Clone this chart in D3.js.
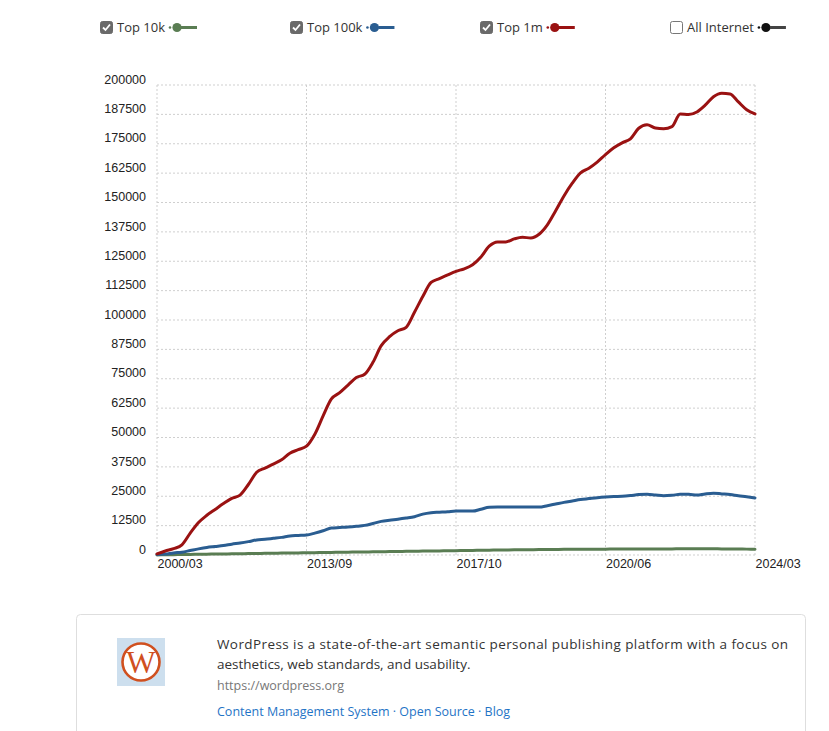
<!DOCTYPE html>
<html>
<head>
<meta charset="utf-8">
<script src="https://cdn.jsdelivr.net/npm/d3@7"></script>
<style>
  html, body { margin: 0; padding: 0; background: #fff; }
  svg { display: block; }
</style>
</head>
<body>
<svg id="chart" width="829" height="731"></svg>
<script>
// ---------------- DATA ----------------
const xTickLabels = ["2000/03", "2013/09", "2017/10", "2020/06", "2024/03"];
const xTickIndex = [0, 18, 36, 54, 72];
const yTicks = [0, 12500, 25000, 37500, 50000, 62500, 75000, 87500, 100000, 112500, 125000, 137500, 150000, 162500, 175000, 187500, 200000];

const top1m = [500, 1700, 2700, 4300, 9300, 13800, 16900, 19400, 21900, 24100,
  25500, 30000, 35200, 37000, 38700, 40500, 43300, 44800, 46300, 51400,
  59200, 66400, 69100, 72300, 75500, 76900, 82000, 89100, 92900, 95400,
  96900, 103300, 110000, 116000, 117600, 119200, 120700, 121800, 123500, 126800,
  131400, 133200, 133200, 134500, 135200, 134900, 136500, 140500, 146500, 152800,
  158200, 162600, 164600, 167200, 170400, 173300, 175400, 177100, 181600, 183100,
  181700, 181400, 182300, 187700, 187400, 188500, 191400, 195000, 196500, 196200,
  192800, 189500, 187700];

const top100k = [200, 400, 900, 1200, 1900, 2600, 3200, 3600, 4000, 4600,
  5100, 5700, 6400, 6700, 7100, 7500, 8100, 8300, 8500, 9300,
  10300, 11500, 11700, 11900, 12200, 12600, 13400, 14300, 14800, 15200,
  15700, 16300, 17400, 18000, 18200, 18400, 18700, 18700, 18700, 19500,
  20300, 20400, 20400, 20400, 20400, 20400, 20400, 21000, 21700, 22400,
  23000, 23600, 24000, 24400, 24700, 24900, 25000, 25300, 25700, 25800,
  25500, 25200, 25400, 25800, 25800, 25500, 26000, 26300, 26000, 25700,
  25200, 24800, 24300];

const top10k = [50, 100, 150, 200, 250, 300, 350, 400, 450, 500,
  550, 600, 650, 700, 750, 800, 850, 900, 950, 1000,
  1050, 1100, 1150, 1200, 1250, 1300, 1350, 1400, 1450, 1500,
  1550, 1600, 1650, 1700, 1750, 1800, 1850, 1900, 1950, 2000,
  2050, 2100, 2150, 2200, 2200, 2250, 2300, 2300, 2350, 2400,
  2400, 2450, 2450, 2500, 2500, 2550, 2550, 2600, 2600, 2600,
  2600, 2600, 2600, 2650, 2650, 2650, 2650, 2650, 2600, 2600,
  2550, 2500, 2450];

const legendLabels = ["Top 10k", "Top 100k", "Top 1m", "All Internet"];
const legendChecked = [true, true, true, false];

const cardDescription = ["WordPress is a state-of-the-art semantic personal publishing platform with a focus on",
  "aesthetics, web standards, and usability."];
const cardUrl = "https://wordpress.org";
const cardTags = ["Content Management System", "Open Source", "Blog"];

// ---------------- STYLE ----------------
const colors = { "Top 10k": "#5a7d53", "Top 100k": "#2a5d91", "Top 1m": "#9a1212", "All Internet": "#111111" };
const legendLineColors = { "Top 10k": "#5a7d53", "Top 100k": "#2a5d91", "Top 1m": "#9a1212", "All Internet": "#444444" };
const descLineWidths = [571, null];

const svg = d3.select("#chart");
const plotLeft = 157, plotRight = 755, plotTop = 85, plotBottom = 555;

const x = d3.scaleLinear().domain([0, top1m.length - 1]).range([plotLeft, plotRight]);
const y = d3.scaleLinear().domain([0, 200000]).range([plotBottom, plotTop]);

// grid
const grid = svg.append("g");
grid.selectAll("line.h").data(yTicks).join("line")
  .attr("x1", plotLeft).attr("x2", plotRight)
  .attr("y1", d => y(d)).attr("y2", d => y(d))
  .attr("stroke", "#cfcfcf").attr("stroke-width", 1).attr("stroke-dasharray", "2,2");
grid.selectAll("line.v").data(xTickIndex).join("line")
  .attr("x1", d => x(d)).attr("x2", d => x(d))
  .attr("y1", plotTop).attr("y2", plotBottom)
  .attr("stroke", "#cfcfcf").attr("stroke-width", 1).attr("stroke-dasharray", "2,2");

// y axis
const yAxis = d3.axisLeft(y).tickValues(yTicks).tickSize(0).tickPadding(11).tickFormat(d => String(d));
const gy = svg.append("g").attr("transform", `translate(${plotLeft},0)`).call(yAxis);
gy.select(".domain").remove();
gy.selectAll("text").attr("dy", "-0.15em")
  .attr("font-family", "'Liberation Sans', Arial, sans-serif").attr("font-size", 12.5).attr("fill", "#222");

// x axis
const xAxis = d3.axisBottom(x).tickValues(xTickIndex).tickSize(0).tickPadding(4)
  .tickFormat((d, i) => xTickLabels[i]);
const gx = svg.append("g").attr("transform", `translate(0,${plotBottom})`).call(xAxis);
gx.select(".domain").remove();
gx.selectAll("text").attr("text-anchor", "start")
  .attr("font-family", "'Liberation Sans', Arial, sans-serif").attr("font-size", 12.5).attr("fill", "#222");

// lines
const line = d3.line().x((d, i) => x(i)).y(d => y(d)).curve(d3.curveMonotoneX);
const seriesList = [["Top 10k", top10k], ["Top 100k", top100k], ["Top 1m", top1m]];
svg.append("g").selectAll("path").data(seriesList).join("path")
  .attr("d", d => line(d[1]))
  .attr("fill", "none")
  .attr("stroke", d => colors[d[0]])
  .attr("stroke-width", 3)
  .attr("stroke-linejoin", "round")
  .attr("stroke-linecap", "round");

// legend
const legendX = d3.scalePoint().domain(legendLabels).range([100, 670]);
const lg = svg.append("g").selectAll("g").data(legendLabels).join("g")
  .attr("transform", d => `translate(${legendX(d)},21)`);
lg.append("rect").attr("x", 0.5).attr("y", 0.5).attr("width", 12).attr("height", 12).attr("rx", 2)
  .attr("fill", (d, i) => legendChecked[i] ? "#6a6a6a" : "#fff")
  .attr("stroke", (d, i) => legendChecked[i] ? "#6a6a6a" : "#777");
lg.filter((d, i) => legendChecked[i]).append("path")
  .attr("d", "M3,6.5 L5.5,9 L10,3.5").attr("fill", "none").attr("stroke", "#fff").attr("stroke-width", 1.8);
lg.append("text").attr("x", 17).attr("y", 11)
  .attr("font-family", "'Open Sans', sans-serif").attr("font-size", 13).attr("fill", "#333")
  .text(d => d);
lg.each(function(d) {
  const g = d3.select(this);
  const w = g.select("text").node().getComputedTextLength();
  const mx = 17 + w + 5;
  g.append("circle").attr("cx", mx).attr("cy", 6.5).attr("r", 1.3).attr("fill", colors[d]);
  g.append("circle").attr("cx", mx + 7).attr("cy", 6.5).attr("r", 4.6).attr("fill", colors[d]);
  g.append("line").attr("x1", mx + 11).attr("x2", mx + 27).attr("y1", 6.5).attr("y2", 6.5)
    .attr("stroke", legendLineColors[d]).attr("stroke-width", 3);
});

// card
const card = svg.append("g");
card.append("rect").attr("x", 76.5).attr("y", 614.5).attr("width", 729).attr("height", 140).attr("rx", 4)
  .attr("fill", "#fff").attr("stroke", "#dedede");
card.append("rect").attr("x", 117).attr("y", 638).attr("width", 48).attr("height", 48).attr("fill", "#cddfee");
card.append("circle").attr("cx", 141).attr("cy", 662).attr("r", 18.5).attr("fill", "#fff")
  .attr("stroke", "#d0501f").attr("stroke-width", 2.6);
card.append("text").attr("x", 141).attr("y", 673).attr("text-anchor", "middle")
  .attr("font-family", "'Liberation Serif', serif").attr("font-size", 31).attr("fill", "#d0501f")
  .text("W");
const desc = card.selectAll("text.desc").data(cardDescription).join("text")
  .attr("x", 217).attr("y", (d, i) => 649 + i * 20)
  .attr("font-family", "'Open Sans', sans-serif").attr("font-size", 13.5).attr("fill", "#333")
  .text(d => d);
desc.filter((d, i) => descLineWidths[i]).attr("textLength", (d, i) => 571).attr("lengthAdjust", "spacing");
card.append("text").attr("x", 217).attr("y", 690)
  .attr("font-family", "'Open Sans', sans-serif").attr("font-size", 12.5).attr("fill", "#777")
  .text(cardUrl);
card.append("text").attr("x", 217).attr("y", 716)
  .attr("font-family", "'Open Sans', sans-serif").attr("font-size", 12.5).attr("fill", "#1f74c6")
  .text(cardTags.join(" · "));
</script>
</body>
</html>
